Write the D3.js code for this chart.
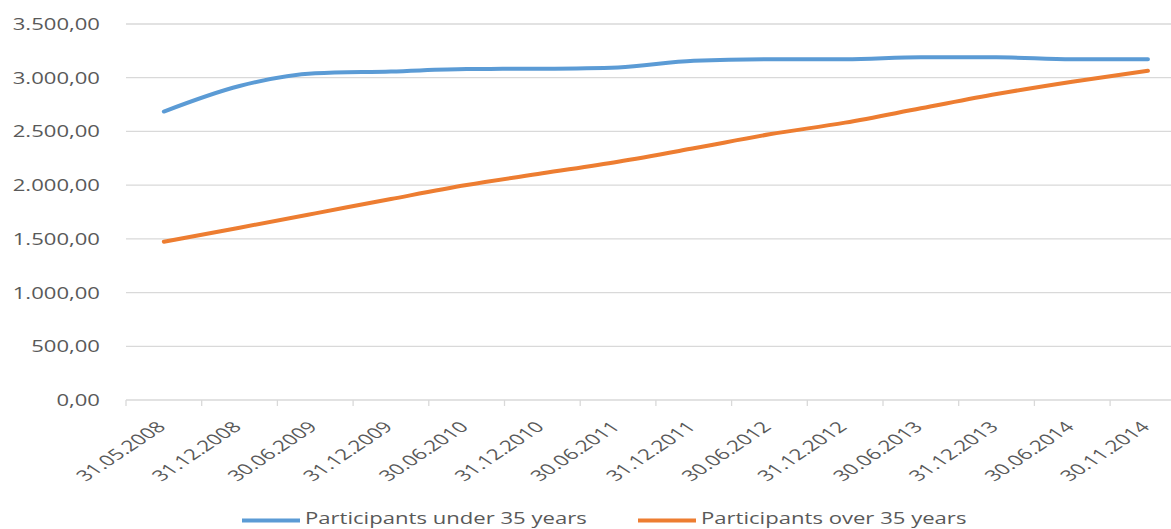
<!DOCTYPE html>
<html><head><meta charset="utf-8">
<script src="https://cdn.jsdelivr.net/npm/d3@7"></script>
<style>body{margin:0;background:#fff}svg{display:block}text{font-family:"Open Sans",sans-serif;fill:#595959}</style>
</head><body>
<svg id="c" width="1171" height="529"></svg>
<script>
const categories = ["31.05.2008","31.12.2008","30.06.2009","31.12.2009","30.06.2010","31.12.2010","30.06.2011","31.12.2011","30.06.2012","31.12.2012","30.06.2013","31.12.2013","30.06.2014","30.11.2014"];
const under35 = [2685,2923,3041,3058,3081,3084,3096,3158,3171,3171,3190,3190,3171,3171];
const over35 = [1473,1604,1737,1871,2001,2110,2218,2343,2473,2582,2715,2848,2963,3065];
const yTicks = [0,500,1000,1500,2000,2500,3000,3500];
const seriesNames = ["Participants under 35 years","Participants over 35 years"];
const colors = ["#5B9BD5","#ED7D31"];

const SX = 1.3;
const svg = d3.select("#c");
const x = d3.scaleBand().domain(categories).range([126, 126 + 14 * 75.7]);
const y = d3.scaleLinear().domain([0, 3500]).range([400, 24]);
const fmt = v => d3.format(",.2f")(v).replace(/,/g, "X").replace(/\./g, ",").replace(/X/g, ".");

// gridlines
svg.append("g").selectAll("line").data(yTicks.filter(d => d > 0)).join("line")
  .attr("x1", 126).attr("x2", 1200).attr("y1", d => y(d)).attr("y2", d => y(d))
  .attr("stroke", "#d9d9d9").attr("stroke-width", 1.3);

// y labels
svg.append("g").selectAll("text").data(yTicks).join("text")
  .attr("transform", d => `translate(100,${y(d)}) scale(${SX},1)`)
  .attr("text-anchor", "end").attr("dy", "0.35em").attr("font-size", 17)
  .text(fmt);

// x axis
const xAxis = svg.append("g").attr("transform", `translate(0,${y(0)})`);
xAxis.append("line").attr("x1", 126).attr("x2", 1200).attr("stroke", "#d9d9d9").attr("stroke-width", 1.3);
const bounds = categories.map((c, i) => x.range()[0] + i * x.step());
xAxis.selectAll("line.t").data(bounds).join("line").attr("class", "t")
  .attr("x1", d => d).attr("x2", d => d).attr("y1", 0).attr("y2", 6)
  .attr("stroke", "#d9d9d9").attr("stroke-width", 1.3);
svg.append("g").selectAll("text").data(categories).join("text")
  .attr("transform", d => `translate(${x(d) + x.bandwidth() / 2 + 3},${y(0) + 28}) scale(1.5,1) rotate(-45)`)
  .attr("text-anchor", "end").attr("font-size", 15)
  .text(d => d);

// lines
const line = d3.line().x((d, i) => x(categories[i]) + x.bandwidth() / 2).y(d => y(d)).curve(d3.curveMonotoneX);
[under35, over35].forEach((s, k) => {
  svg.append("path").datum(s).attr("d", line).attr("fill", "none")
    .attr("stroke", colors[k]).attr("stroke-width", 4).attr("stroke-linecap", "round");
});

// legend
const legX = [242, 638];
seriesNames.forEach((n, k) => {
  svg.append("line").attr("x1", legX[k]).attr("x2", legX[k] + 58).attr("y1", 520.5).attr("y2", 520.5)
    .attr("stroke", colors[k]).attr("stroke-width", 4);
  svg.append("text").attr("transform", `translate(${legX[k] + 63},524) scale(${SX},1)`)
    .attr("font-size", 17).text(n);
});
</script>
</body></html>
